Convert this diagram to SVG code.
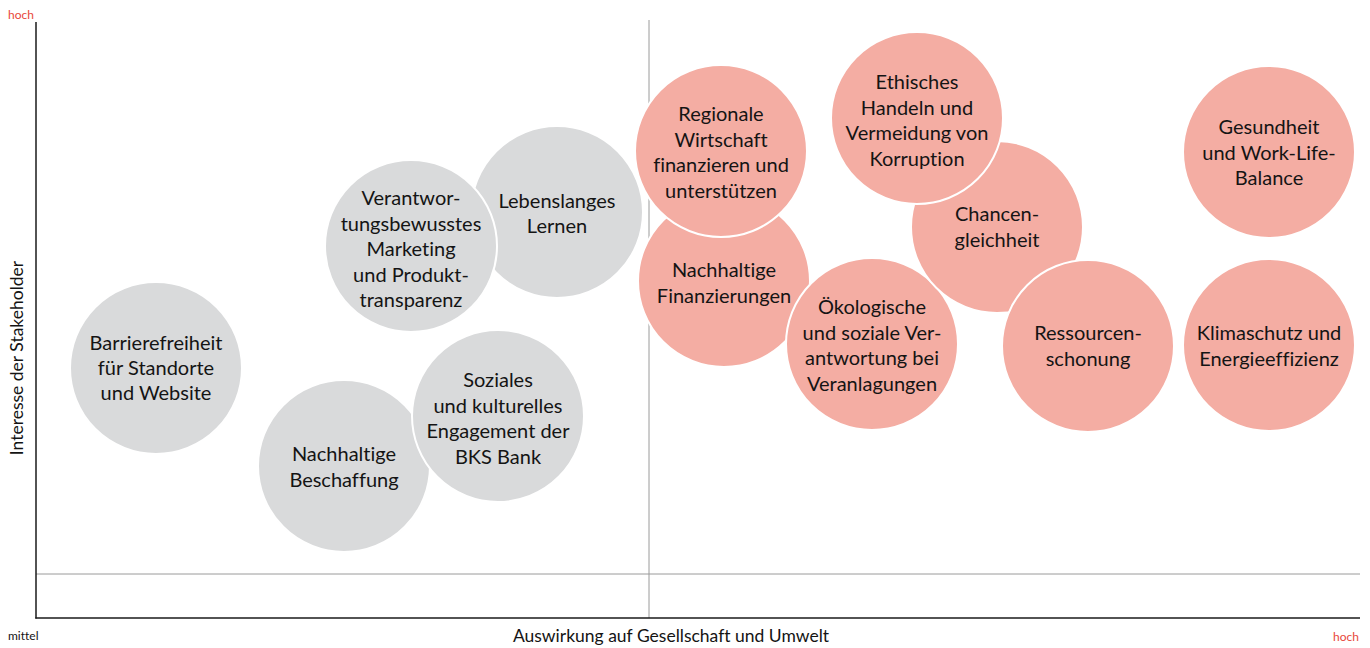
<svg xmlns="http://www.w3.org/2000/svg" width="1370" height="648" viewBox="0 0 1370 648">
<style>
text{font-family:Lato,"Open Sans","Liberation Sans",sans-serif;fill:#141414;font-variant-ligatures:no-common-ligatures}
.lbl{font-size:20px;text-anchor:middle}
.g{fill:#d9dadb;stroke:#fff;stroke-width:2}
.r{fill:#f4ada3;stroke:#fff;stroke-width:2}
.ax{font-size:17.5px}
.hi{font-size:12px;fill:#e8473a}
.lo{font-size:12px}
</style>
<rect width="1370" height="648" fill="#fff"/>
<g id="axes">
<line x1="649" y1="20" x2="649" y2="618" stroke="#9a9a9a" stroke-width="1"/>
<line x1="36" y1="574" x2="1360" y2="574" stroke="#9a9a9a" stroke-width="1"/>
<line x1="36" y1="22" x2="36" y2="618.5" stroke="#1a1a1a" stroke-width="1.5"/>
<line x1="35.3" y1="618" x2="1360" y2="618" stroke="#1a1a1a" stroke-width="1.5"/>
<text class="hi" x="8" y="19">hoch</text>
<text class="lo" x="8" y="640">mittel</text>
<text class="hi" x="1359" y="641" text-anchor="end">hoch</text>
<text class="ax" x="671" y="642" text-anchor="middle">Auswirkung auf Gesellschaft und Umwelt</text>
<text class="ax" transform="translate(23,358) rotate(-90)" text-anchor="middle">Interesse der Stakeholder</text>
</g>
<g id="connectors"></g>
<g id="n-barriere"><circle class="g" cx="156" cy="368" r="86"/>
<text class="lbl" x="156" y="350">Barrierefreiheit<tspan x="156" dy="25">für Standorte</tspan><tspan x="156" dy="25">und Website</tspan></text></g>
<g id="n-lernen"><circle class="g" cx="557" cy="212" r="86"/>
<text class="lbl" x="557" y="208">Lebenslanges<tspan x="557" dy="25">Lernen</tspan></text></g>
<g id="n-marketing"><circle class="g" cx="411" cy="246" r="86"/>
<text class="lbl" x="411" y="205">Verantwor-<tspan x="411" dy="25.5">tungsbewusstes</tspan><tspan x="411" dy="25.5">Marketing</tspan><tspan x="411" dy="25.5">und Produkt-</tspan><tspan x="411" dy="25.5">transparenz</tspan></text></g>
<g id="n-beschaffung"><circle class="g" cx="344" cy="466" r="86"/>
<text class="lbl" x="344" y="461">Nachhaltige<tspan x="344" dy="25.5">Beschaffung</tspan></text></g>
<g id="n-soziales"><circle class="g" cx="498" cy="416" r="86"/>
<text class="lbl" x="498" y="387">Soziales<tspan x="498" dy="25.5">und kulturelles</tspan><tspan x="498" dy="25.5">Engagement der</tspan><tspan x="498" dy="25.5">BKS Bank</tspan></text></g>
<g id="n-finanzierungen"><circle class="r" cx="724" cy="281" r="86"/>
<text class="lbl" x="724" y="277">Nachhaltige<tspan x="724" dy="25.5">Finanzierungen</tspan></text></g>
<g id="n-regionale"><circle class="r" cx="721" cy="151" r="86"/>
<text class="lbl" x="721" y="121">Regionale<tspan x="721" dy="25.5">Wirtschaft</tspan><tspan x="721" dy="25.5">finanzieren und</tspan><tspan x="721" dy="25.5">unterstützen</tspan></text></g>
<g id="n-oekologisch"><circle class="r" cx="872" cy="344" r="86"/>
<text class="lbl" x="872" y="314">Ökologische<tspan x="872" dy="25.5">und soziale Ver-</tspan><tspan x="872" dy="25.5">antwortung bei</tspan><tspan x="872" dy="25.5">Veranlagungen</tspan></text></g>
<g id="n-chancen"><circle class="r" cx="997" cy="227" r="86"/>
<text class="lbl" x="997" y="221">Chancen-<tspan x="997" dy="25.5">gleichheit</tspan></text></g>
<g id="n-ethisch"><circle class="r" cx="917" cy="118" r="86"/>
<text class="lbl" x="917" y="89">Ethisches<tspan x="917" dy="25.5">Handeln und</tspan><tspan x="917" dy="25.5">Vermeidung von</tspan><tspan x="917" dy="25.5">Korruption</tspan></text></g>
<g id="n-ressourcen"><circle class="r" cx="1088" cy="346" r="86"/>
<text class="lbl" x="1088" y="340">Ressourcen-<tspan x="1088" dy="25.5">schonung</tspan></text></g>
<g id="n-gesundheit"><circle class="r" cx="1269" cy="152" r="86"/>
<text class="lbl" x="1269" y="134">Gesundheit<tspan x="1269" dy="25.5">und Work-Life-</tspan><tspan x="1269" dy="25.5">Balance</tspan></text></g>
<g id="n-klima"><circle class="r" cx="1269" cy="345" r="86"/>
<text class="lbl" x="1269" y="340">Klimaschutz und<tspan x="1269" dy="25.5">Energieeffizienz</tspan></text></g>
</svg>
